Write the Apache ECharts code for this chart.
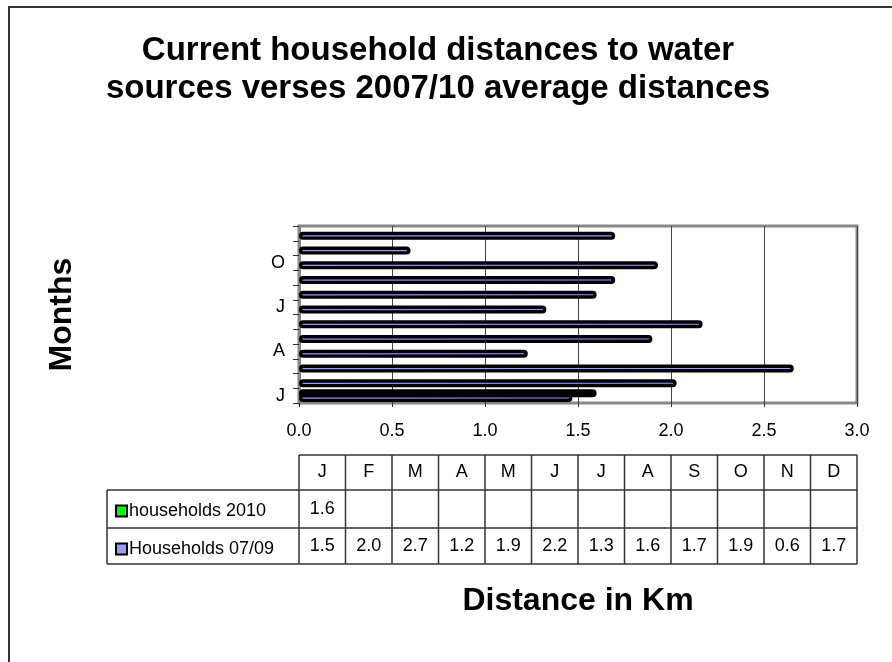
<!DOCTYPE html>
<html>
<head>
<meta charset="utf-8">
<script src="https://cdn.jsdelivr.net/npm/echarts@6/dist/echarts.min.js"></script>
<style>
  html, body { margin: 0; padding: 0; background: #fff; }
  #chart { width: 892px; height: 662px; }
</style>
</head>
<body>
<div id="chart"></div>
<script>
// data
const months = ['J', 'F', 'M', 'A', 'M', 'J', 'J', 'A', 'S', 'O', 'N', 'D'];
const households2010 = [1.6, null, null, null, null, null, null, null, null, null, null, null];
const households0709 = [1.47, 2.03, 2.66, 1.23, 1.9, 2.17, 1.33, 1.6, 1.7, 1.93, 0.6, 1.7];
const seriesNames = ['households 2010', 'Households 07/09'];
const xMin = 0, xMax = 3, xStep = 0.5;

const FONT = "'Liberation Sans', Arial, sans-serif";

// plot + table geometry
const plotLeft = 299, plotRight = 857, plotTop = 226, plotBottom = 403;
const tableLeft = 107;
const colW = (plotRight - plotLeft) / months.length;
const rowY = [455, 490, 528, 564];

function buildTable() {
  let els = [];
  let line = (x1, y1, x2, y2) => els.push({
    type: 'line', silent: true,
    shape: { x1: x1, y1: y1, x2: x2, y2: y2 },
    style: { stroke: '#333', lineWidth: 1.5 }
  });
  // horizontal lines
  line(plotLeft, rowY[0], plotRight, rowY[0]);
  for (let r = 1; r < rowY.length; r++) line(tableLeft, rowY[r], plotRight, rowY[r]);
  // vertical lines
  line(tableLeft, rowY[1], tableLeft, rowY[3]);
  for (let i = 0; i <= months.length; i++) {
    let x = plotLeft + i * colW;
    line(x, rowY[0], x, rowY[3]);
  }
  let cell = (txt, i, r) => els.push({
    type: 'text', silent: true,
    x: plotLeft + (i + 0.5) * colW,
    y: (rowY[r] + rowY[r + 1]) / 2,
    style: { text: txt, fill: '#000', font: '18px ' + FONT, align: 'center', verticalAlign: 'middle' }
  });
  months.forEach((m, i) => {
    cell(m, i, 0);
    if (households2010[i] != null) cell(households2010[i].toFixed(1), i, 1);
    if (households0709[i] != null) cell(households0709[i].toFixed(1), i, 2);
  });
  // outer frame of the whole chart
  els.push({
    type: 'rect', silent: true, z: -1,
    shape: { x: 9, y: 7, width: 1000, height: 1000 },
    style: { fill: 'none', stroke: '#333', lineWidth: 2 }
  });
  return els;
}

let chart = echarts.init(document.getElementById('chart'));
let option = {
  backgroundColor: '#fff',
  animation: false,
  title: {
    text: 'Current household distances to water\nsources verses 2007/10 average distances',
    left: 433,
    textAlign: 'center',
    top: 27,
    textStyle: { fontFamily: FONT, fontSize: 33, fontWeight: 'bold', color: '#000', lineHeight: 38 }
  },
  legend: {
    orient: 'vertical',
    left: 110,
    top: 496,
    itemGap: 18,
    itemWidth: 11,
    itemHeight: 11,
    icon: 'rect',
    selectedMode: false,
    itemStyle: { borderColor: '#000', borderWidth: 2 },
    textStyle: { fontFamily: FONT, fontSize: 18, color: '#000', lineHeight: 20, padding: [0, 0, 0, -3] },
    data: seriesNames
  },
  grid: {
    left: plotLeft,
    right: 892 - plotRight,
    top: plotTop,
    bottom: 662 - plotBottom,
    show: true,
    borderColor: '#888',
    borderWidth: 3,
    backgroundColor: '#fff'
  },
  xAxis: {
    type: 'value',
    min: xMin,
    max: xMax,
    interval: xStep,
    name: 'Distance in Km',
    nameLocation: 'middle',
    nameGap: 182,
    nameTextStyle: { fontFamily: FONT, fontSize: 32, fontWeight: 'bold', color: '#000' },
    axisLine: { show: false },
    axisTick: { show: true, length: 4, lineStyle: { color: '#333' } },
    axisLabel: {
      margin: 19,
      fontFamily: FONT, fontSize: 18, color: '#000',
      formatter: v => v.toFixed(1)
    },
    splitLine: { show: true, lineStyle: { color: '#444', width: 1 } }
  },
  yAxis: {
    type: 'category',
    data: months,
    name: 'Months',
    nameLocation: 'middle',
    nameRotate: 90,
    nameGap: 221,
    nameTextStyle: { fontFamily: FONT, fontSize: 32, fontWeight: 'bold', color: '#000' },
    axisLine: { show: true, lineStyle: { color: '#888', width: 3 } },
    axisTick: { show: true, interval: 0, length: 6, lineStyle: { color: '#333' } },
    axisLabel: { interval: 2, margin: 14, fontFamily: FONT, fontSize: 18, color: '#000' }
  },
  series: [
    {
      name: seriesNames[0],
      type: 'bar',
      data: households2010,
      barWidth: 8,
      barGap: '-40%',
      itemStyle: { color: '#00ff00', borderColor: '#000', borderWidth: 4, borderRadius: 3 }
    },
    {
      name: seriesNames[1],
      type: 'bar',
      data: households0709,
      barWidth: 8,
      barGap: '-40%',
      itemStyle: { color: '#9999ff', borderColor: '#000', borderWidth: 3.4, borderRadius: 3 }
    }
  ],
  graphic: buildTable()
};
chart.setOption(option);
</script>
</body>
</html>
